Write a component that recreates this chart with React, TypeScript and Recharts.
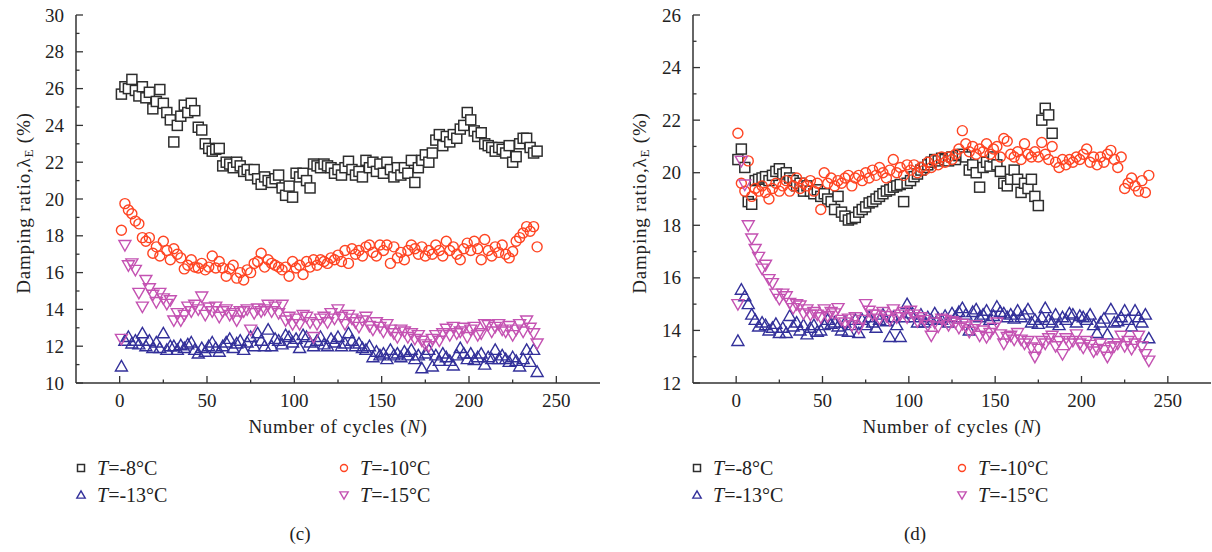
import { Scatter, ScatterChart, XAxis, YAxis } from "recharts";

// cycle numbers at which the damping ratio is plotted
const cycles = [
  1, 3, 5, 7, 9, 11, 13, 15, 17, 19, 21, 23, 25, 27, 29, 31, 33, 35, 37, 39,
  41, 43, 45, 47, 49, 51, 53, 55, 57, 59, 61, 63, 65, 67, 69, 71, 73, 75, 77, 79,
  81, 83, 85, 87, 89, 91, 93, 95, 97, 99, 101, 103, 105, 107, 109, 111, 113, 115, 117, 119,
  121, 123, 125, 127, 129, 131, 133, 135, 137, 139, 141, 143, 145, 147, 149, 151, 153, 155, 157, 159,
  161, 163, 165, 167, 169, 171, 173, 175, 177, 179, 181, 183, 185, 187, 189, 191, 193, 195, 197, 199,
  201, 203, 205, 207, 209, 211, 213, 215, 217, 219, 221, 223, 225, 227, 229, 231, 233, 235, 237, 239
];

const xTicks = [0, 25, 50, 75, 100, 125, 150, 175, 200, 225, 250];
const leftYTicks = [10, 11, 12, 13, 14, 15, 16, 17, 18, 19, 20, 21, 22, 23, 24, 25, 26, 27, 28, 29, 30];
const rightYTicks = [12, 13, 14, 15, 16, 17, 18, 19, 20, 21, 22, 23, 24, 25, 26];
const legendLabels = ["-8", "-10", "-13", "-15"];

// panel (c)
const leftMinus8 = [
  25.7, 26.1, 26.0, 26.5, 25.9, 25.6, 26.1, 25.5, 25.8, 24.9,
  25.3, 25.95, 25.2, 24.7, 24.3, 23.1, 24.0, 24.5, 25.1, 24.7,
  25.2, 24.8, 23.9, 23.75, 23.0, 22.75, 22.6, 22.7, 22.75, 21.8,
  22.0, 21.9, 21.7, 22.0, 21.8, 21.5, 21.6, 21.3, 21.6, 21.1,
  20.8, 21.2, 21.0, 20.9, 21.1, 21.3, 20.6, 20.2, 20.7, 20.1,
  21.4, 21.2, 21.4, 21.0, 20.6, 21.9, 21.8, 21.7, 21.9, 21.8,
  21.7, 21.4, 21.6, 21.3, 21.7, 22.05, 21.6, 21.3, 21.5, 21.2,
  22.1, 21.7, 22.0, 21.5, 21.9, 21.4, 22.0, 21.6, 21.2, 21.7,
  21.3, 21.7, 21.4, 22.1, 20.9, 21.7, 22.1, 22.4, 22.0, 22.5,
  23.2, 23.5, 22.9, 23.4, 23.1, 23.5, 23.3, 23.8, 24.0, 24.7,
  24.3, 23.7, 23.4, 23.6, 23.0, 22.9, 22.8, 22.6, 22.8, 22.7,
  22.5, 22.9, 22.0, 22.3, 23.0, 23.3, 23.3, 22.8, 22.5, 22.6
];
const leftMinus10 = [
  18.3, 19.75, 19.4, 19.2, 18.8, 18.65, 17.9, 17.7, 17.9, 17.05,
  17.4, 16.9, 17.7, 17.2, 16.7, 17.3, 17.0, 16.8, 16.2, 16.4,
  16.7, 16.3, 16.25, 16.5, 16.15, 16.3, 16.9, 16.25, 16.6, 16.25,
  15.8, 16.2, 16.4, 15.7, 16.0, 15.6, 16.15, 16.0, 16.5, 16.6,
  17.05, 16.3, 16.7, 16.5, 16.4, 16.3, 16.15, 16.3, 15.8, 16.6,
  16.25, 16.4, 15.9, 16.6, 16.3, 16.7, 16.4, 16.7, 16.6, 16.5,
  16.8, 16.7, 16.95, 16.6, 17.2, 16.5, 17.3, 17.0, 17.2, 16.9,
  17.4, 17.5, 17.1, 16.9, 17.5, 17.2, 17.5, 16.5, 17.4, 16.8,
  17.1, 16.7, 17.2, 17.5, 17.3, 17.0, 17.4, 16.9, 17.2, 17.0,
  17.5, 17.2, 16.9, 17.7, 17.2, 17.4, 17.0, 16.7, 17.3, 17.6,
  17.2, 17.7, 17.3, 16.7, 17.8, 17.2, 16.9, 17.4, 17.1, 17.5,
  17.0, 16.8, 17.15, 17.7, 17.9, 18.15, 18.5, 18.25, 18.5, 17.4
];
const leftMinus13 = [
  10.9, 12.3, 12.5, 12.15, 12.3, 12.1, 12.7, 12.0, 12.3, 11.9,
  12.2, 11.9, 12.7, 11.8, 12.0, 12.0, 11.8, 12.05, 11.9, 12.1,
  12.2, 11.8, 11.6, 11.9, 11.7, 12.0, 12.2, 11.9, 11.7, 12.0,
  12.2, 12.4, 11.9, 12.15, 12.3, 11.8, 12.2, 12.5, 12.0, 12.7,
  12.3, 12.0, 12.9, 12.0, 12.4, 12.3, 12.1, 12.6, 12.5, 12.2,
  12.4, 11.9, 12.6, 12.5, 12.2, 12.0, 12.3, 12.5, 12.1, 12.0,
  12.4, 12.2, 12.5, 12.0, 12.15, 12.7, 12.3, 12.0, 12.15, 11.9,
  11.8, 12.0, 11.4, 11.7, 11.5, 11.6, 11.3, 11.8, 11.5, 11.6,
  11.4, 11.7, 11.5, 11.8, 11.3, 11.5, 10.8, 11.6, 11.8, 10.9,
  11.5, 11.2, 11.6, 11.4, 11.2, 10.95, 11.5, 11.9, 11.6, 11.3,
  11.6, 11.25, 11.4, 11.6, 11.0, 11.4, 11.3, 11.8, 11.3, 11.5,
  11.3, 11.15, 11.4, 11.2, 10.9, 11.3, 11.8, 11.15, 11.8, 10.6
];
const leftMinus15 = [
  12.4, 17.5, 16.4, 16.5, 16.15, 14.9, 14.15, 15.6, 15.15, 14.8,
  14.4, 14.9, 14.6, 14.3, 14.5, 13.4, 13.8, 13.4, 13.7, 14.15,
  13.9, 14.25, 14.0, 14.7, 13.7, 14.1, 13.9, 14.15, 13.6, 13.9,
  14.0, 13.7, 13.8, 13.4, 13.9, 13.9, 14.0, 12.9, 13.8, 14.05,
  13.9, 14.0, 14.25, 13.9, 14.15, 13.8, 14.25, 13.4, 13.6, 13.2,
  13.5, 13.2, 13.7, 13.6, 13.3, 12.5, 13.2, 13.5, 13.6, 13.3,
  13.8, 13.5, 14.0, 13.6, 13.2, 13.7, 13.5, 13.3, 13.05, 13.4,
  13.6, 13.1, 12.9, 13.3, 13.05, 12.8, 13.2, 12.9, 12.7, 12.5,
  12.9, 12.8, 12.5, 12.7, 12.4, 12.6, 12.3, 12.1, 12.0, 12.4,
  12.6, 12.3, 12.7, 12.95, 12.6, 13.05, 12.7, 12.8, 13.0, 12.5,
  12.9, 13.05, 12.6, 12.7, 13.2, 13.15, 12.8, 13.05, 13.2, 12.9,
  12.8, 13.1, 12.6, 12.9, 13.2, 12.8, 13.4, 13.0, 12.7, 12.15
];

// panel (d)
const rightMinus8 = [
  20.5, 20.9, 20.2, 18.9, 18.8, 19.7, 19.75, 19.8, 19.85, 19.7,
  19.9, 20.05, 20.15, 19.95, 20.0, 19.8, 19.7, 19.5, 19.6, 19.3,
  19.5, 19.3, 19.2, 19.35, 19.1, 19.2, 19.0, 18.9, 18.6, 19.1,
  18.5, 18.35, 18.2, 18.25, 18.3, 18.5, 18.6, 18.7, 18.85, 18.9,
  19.0, 19.1, 19.2, 19.3, 19.35, 19.45, 19.5, 19.55, 18.9, 19.6,
  19.7, 19.85, 19.95, 20.1, 20.2, 20.3, 20.4, 20.5, 20.45, 20.55,
  20.5, 20.45, 20.6, 20.5, 20.65, 20.7, 20.6, 20.1, 20.3, 20.0,
  19.45, 20.2, 20.4, 20.25, 20.6, 20.3, 20.05, 19.6, 19.5, 19.75,
  20.1, 19.75, 19.25, 19.6, 19.4, 19.75, 19.1, 18.75, 22.0, 22.45,
  22.2, 21.5
];
const rightMinus10 = [
  21.5, 19.6, 19.3, 20.45, 19.1, 19.4, 19.3, 19.5, 19.25, 19.0,
  19.4, 19.6, 19.3, 19.5, 19.7, 19.3, 19.5, 19.8, 19.4, 19.6,
  19.5, 19.7, 19.3, 19.6, 18.6, 20.0, 19.6, 19.8, 19.5, 19.7,
  19.6, 19.8, 19.9, 19.5, 19.8, 19.9, 19.7, 20.0, 19.8, 20.1,
  19.9, 20.2, 20.0, 19.8, 20.1, 20.5, 20.0, 20.2, 19.9, 20.3,
  20.1, 20.3, 20.0, 20.2, 20.1, 20.4, 20.2, 20.5, 20.3, 20.6,
  20.4, 20.6, 20.5, 20.7, 20.9, 21.6, 21.1, 20.8, 21.0, 20.7,
  20.9, 20.8, 21.1, 20.7, 20.9, 21.0, 20.6, 21.3, 21.2, 20.7,
  20.6, 20.8, 20.5, 21.1, 20.7, 20.6, 20.8, 20.6, 21.15, 20.7,
  20.5, 21.0, 20.4, 20.2, 20.5, 20.3, 20.5, 20.4, 20.6, 20.5,
  20.7, 20.9, 20.4, 20.6, 20.3, 20.6, 20.4, 20.7, 20.85, 20.5,
  20.2, 20.6, 19.4, 19.6, 19.8, 19.5, 19.3, 19.7, 19.25, 19.9
];
const rightMinus13 = [
  13.6, 15.55, 15.3, 15.0, 14.6, 14.4, 14.15, 14.3, 14.2, 14.0,
  14.1, 14.25, 13.9, 14.1, 13.9, 14.55, 14.15, 14.3, 14.0, 14.2,
  13.85, 14.1, 14.2, 13.95, 14.0, 14.2, 14.4, 14.25, 14.3, 14.15,
  14.0, 14.3, 13.95, 14.2, 14.4, 13.9, 14.4, 14.2, 14.5, 14.3,
  14.1, 14.4, 14.6, 14.35, 13.75, 14.5, 14.2, 13.75, 14.5, 15.0,
  14.65, 14.5, 14.3, 14.6, 14.3, 14.5, 14.4, 14.65, 14.45, 14.4,
  14.55, 14.3, 14.65, 14.5, 14.7, 14.85, 14.6, 14.0, 14.7, 14.8,
  14.5, 14.6, 14.75, 14.4, 14.55, 14.9, 14.7, 14.65, 14.5, 14.6,
  14.45, 14.75, 14.5, 14.6, 14.8, 14.3, 14.4, 14.25, 14.5, 14.85,
  14.4, 14.3, 14.6, 14.2, 14.5, 14.4, 14.65, 14.6, 14.3, 14.55,
  14.5, 14.4, 14.6, 14.2, 13.9, 14.3, 14.45, 13.85, 14.8, 14.3,
  14.35, 14.5, 14.75, 14.4, 14.15, 14.75, 14.5, 14.3, 14.6, 13.7
];
const rightMinus15 = [
  15.0, 20.45, 19.55, 18.0, 17.5, 17.1, 16.8, 16.35, 16.5, 15.95,
  15.8, 15.4, 15.2, 15.4, 15.3, 15.05, 14.85, 15.0, 14.95, 14.65,
  14.8, 14.6, 14.7, 14.6, 14.5, 14.8, 14.55, 14.7, 14.65, 14.85,
  14.4, 14.3, 14.45, 14.2, 14.5, 14.1, 14.4, 15.0, 14.75, 14.6,
  14.6, 14.45, 14.7, 14.55, 14.4, 14.8, 14.5, 14.6, 14.7, 14.5,
  14.75, 14.6, 14.35, 14.5, 14.4, 14.2, 13.8, 14.3, 14.15, 14.45,
  14.4, 14.2, 14.35, 14.3, 14.1, 14.25, 14.15, 13.95, 14.05, 14.2,
  13.8, 14.0, 13.75, 13.9, 14.1, 14.3, 13.85, 13.5, 13.75, 13.8,
  13.65, 13.9, 13.65, 13.5, 13.6, 13.35, 13.0, 13.3, 13.6, 13.5,
  13.7, 13.8, 13.4, 13.6, 13.1, 13.7, 13.5, 13.6, 13.85, 13.5,
  13.35, 13.6, 13.45, 13.2, 13.3, 13.5, 13.25, 13.0, 13.35, 13.4,
  13.5, 13.8, 13.4, 13.6, 13.3, 13.5, 13.8, 13.4, 13.1, 12.85
];

const colors = ["#2e2e2e", "#ff4422", "#33309a", "#c452b2"];
const shapes = ["square", "circle", "up", "down"];
const axisColor = "#333";
const font = "'Liberation Serif', 'Times New Roman', serif";

function Marker({ cx, cy, shape, color, s = 1 }: { cx: number; cy: number; shape: string; color: string; s?: number }) {
  if (shape === "square") {
    return <rect x={cx - 5 * s} y={cy - 5 * s} width={10 * s} height={10 * s} fill="#fff" stroke={color} strokeWidth={1.5} />;
  }
  if (shape === "circle") {
    return <circle cx={cx} cy={cy} r={5 * s} fill="none" stroke={color} strokeWidth={1.4} />;
  }
  if (shape === "up") {
    const p = `${cx},${cy - 6 * s} ${cx + 6 * s},${cy + 4.5 * s} ${cx - 6 * s},${cy + 4.5 * s}`;
    return <polygon points={p} fill="none" stroke={color} strokeWidth={1.4} />;
  }
  const p = `${cx - 6 * s},${cy - 4.5 * s} ${cx + 6 * s},${cy - 4.5 * s} ${cx},${cy + 6 * s}`;
  return <polygon points={p} fill="none" stroke={color} strokeWidth={1.4} />;
}

function XTick({ x, y, payload }: any) {
  const major = payload.value % 50 === 0;
  return (
    <g>
      <line x1={x} x2={x} y1={y} y2={y - (major ? 7 : 3.5)} stroke={axisColor} strokeWidth={1.3} />
      {major && (
        <text x={x} y={y + 24} textAnchor="middle" fontFamily={font} fontSize={19} fill="#222">
          {payload.value}
        </text>
      )}
    </g>
  );
}

function YTick({ x, y, payload }: any) {
  const major = payload.value % 2 === 0;
  return (
    <g>
      <line x1={x} x2={x + (major ? 7 : 3.5)} y1={y} y2={y} stroke={axisColor} strokeWidth={1.3} />
      {major && (
        <text x={x - 12} y={y + 6.5} textAnchor="end" fontFamily={font} fontSize={19} fill="#222">
          {payload.value}
        </text>
      )}
    </g>
  );
}

type Series = { name: string; values: number[] };

function Panel({
  series,
  yDomain,
  yTicks,
  yAxisWidth,
  marginRight,
  labelX,
  legendX,
  caption,
  captionX
}: {
  series: Series[];
  yDomain: [number, number];
  yTicks: number[];
  yAxisWidth: number;
  marginRight: number;
  labelX: number;
  legendX: [number, number];
  caption: string;
  captionX: number;
}) {
  return (
    <div style={{ position: "relative", width: 606, height: 552 }}>
      <ScatterChart width={606} height={440} margin={{ top: 15, right: marginRight, bottom: 0, left: 0 }}>
        <XAxis
          dataKey="x"
          type="number"
          domain={[-25, 275]}
          ticks={xTicks}
          interval={0}
          height={57}
          tickSize={0}
          tickMargin={0}
          tickLine={false}
          tick={<XTick />}
          axisLine={{ stroke: axisColor, strokeWidth: 1.5 }}
          label={(p: any) => {
            const vb = p.viewBox;
            return (
              <text x={vb.x + vb.width / 2} y={vb.y + 50} textAnchor="middle" fontFamily={font} fontSize={19} letterSpacing={0.7} fill="#222">
                Number of cycles (<tspan fontStyle="italic">N</tspan>)
              </text>
            );
          }}
        />
        <XAxis xAxisId="top" orientation="top" type="number" domain={[-25, 275]} height={0} tick={false} tickLine={false} axisLine={{ stroke: "#444", strokeWidth: 1.5 }} />
        <YAxis
          dataKey="y"
          type="number"
          domain={yDomain}
          ticks={yTicks}
          interval={0}
          width={yAxisWidth}
          tickSize={0}
          tickMargin={0}
          tickLine={false}
          tick={<YTick />}
          axisLine={{ stroke: axisColor, strokeWidth: 1.5 }}
          label={(p: any) => {
            const vb = p.viewBox;
            const cx = vb.x + labelX;
            const cy = vb.y + vb.height / 2 + 4;
            return (
              <text
                x={cx}
                y={cy}
                transform={`rotate(-90 ${cx} ${cy})`}
                textAnchor="middle"
                dominantBaseline="central"
                fontFamily={font}
                fontSize={19}
                letterSpacing={0.8}
                fill="#222"
              >
                Damping ratio,λ<tspan dy={5} fontSize={13}>E</tspan>
                <tspan dy={-5}> (%)</tspan>
              </text>
            );
          }}
        />
        <YAxis yAxisId="right" orientation="right" type="number" domain={yDomain} width={0} tick={false} tickLine={false} axisLine={{ stroke: "#888", strokeWidth: 1 }} />
        {series.map((s, k) => (
          <Scatter
            key={s.name}
            name={s.name}
            data={s.values.map((v, i) => ({ x: cycles[i], y: v }))}
            isAnimationActive={false}
            shape={(p: any) => <Marker cx={p.cx} cy={p.cy} shape={shapes[k]} color={colors[k]} />}
          />
        ))}
      </ScatterChart>
      {series.map((s, k) => (
        <div
          key={s.name}
          style={{
            position: "absolute",
            left: legendX[k % 2] - 8,
            top: (k < 2 ? 468 : 495) - 12,
            height: 24,
            display: "flex",
            alignItems: "center",
            fontFamily: font,
            fontSize: 20,
            color: "#222",
            whiteSpace: "nowrap"
          }}
        >
          <svg width={16} height={16} style={{ marginRight: 8 }}>
            <Marker cx={8} cy={8} shape={shapes[k]} color={colors[k]} s={0.7} />
          </svg>
          <span>
            <i>T</i>={legendLabels[k]}°C
          </span>
        </div>
      ))}
      <div
        style={{
          position: "absolute",
          left: captionX - 30,
          width: 60,
          top: 523,
          textAlign: "center",
          fontFamily: font,
          fontSize: 19,
          color: "#222"
        }}
      >
        {caption}
      </div>
    </div>
  );
}

export default function App() {
  const left: Series[] = [
    { name: "m8", values: leftMinus8 },
    { name: "m10", values: leftMinus10 },
    { name: "m13", values: leftMinus13 },
    { name: "m15", values: leftMinus15 }
  ];
  const right: Series[] = [
    { name: "m8", values: rightMinus8 },
    { name: "m10", values: rightMinus10 },
    { name: "m13", values: rightMinus13 },
    { name: "m15", values: rightMinus15 }
  ];
  return (
    <div style={{ position: "relative", width: 1212, height: 552, display: "flex", background: "#fff" }}>
      <style>{`body{margin:0}`}</style>
      <Panel
        series={left}
        yDomain={[10, 30]}
        yTicks={leftYTicks}
        yAxisWidth={76}
        marginRight={6}
        labelX={23}
        legendX={[81, 344]}
        caption="(c)"
        captionX={300}
      />
      <Panel
        series={right}
        yDomain={[12, 26]}
        yTicks={rightYTicks}
        yAxisWidth={87}
        marginRight={1}
        labelX={33}
        legendX={[91, 356]}
        caption="(d)"
        captionX={309}
      />
    </div>
  );
}
